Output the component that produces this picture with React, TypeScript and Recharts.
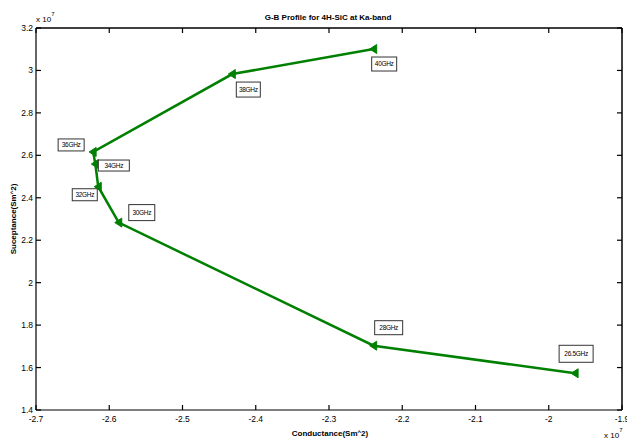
import React from "react";
import { LineChart, Line, XAxis, YAxis, ReferenceLine } from "recharts";

// G-B profile, values in units of 1e7
const freqLabels = ["26.5GHz", "28GHz", "30GHz", "32GHz", "34GHz", "36GHz", "38GHz", "40GHz"];
const conductance = [-1.964, -2.239, -2.587, -2.615, -2.619, -2.622, -2.432, -2.239];
const susceptance = [1.573, 1.703, 2.283, 2.452, 2.559, 2.616, 2.983, 3.101];

const xTicks = [-2.7, -2.6, -2.5, -2.4, -2.3, -2.2, -2.1, -2, -1.9];
const yTicks = [1.4, 1.6, 1.8, 2, 2.2, 2.4, 2.6, 2.8, 3, 3.2];

const data = freqLabels.map((f, i) => ({ f, g: conductance[i], b: susceptance[i] }));

// label box placement relative to the marker (layout only)
const labelBoxes: Record<string, { dx: number; dy: number; w: number; h: number }> = {
  "26.5GHz": { dx: -16, dy: -28, w: 34, h: 17 },
  "28GHz": { dx: 1, dy: -25, w: 28, h: 14 },
  "30GHz": { dx: 10, dy: -18, w: 26, h: 16 },
  "32GHz": { dx: -26, dy: 2, w: 25, h: 12 },
  "34GHz": { dx: 3, dy: -4, w: 31, h: 11 },
  "36GHz": { dx: -35, dy: -13, w: 26, h: 12 },
  "38GHz": { dx: 4, dy: 8, w: 24, h: 15 },
  "40GHz": { dx: -2, dy: 8, w: 25, h: 14 },
};

const W = 627;
const H = 439;
const MARGIN = { top: 28, right: 5, left: 0, bottom: 0 };
const PLOT_TOP = MARGIN.top;
const PLOT_RIGHT = W - MARGIN.right;

const GREEN = "#008000";
const FONT = "'Liberation Sans', Arial, sans-serif";

const fmt = (v: number) => String(v);

// bottom tick + mirrored tick on the top edge (matlab box style)
const BottomTick = (props: any) => {
  const { x, y, payload } = props;
  return (
    <g>
      <line x1={x} x2={x} y1={y} y2={y - 5} stroke="#000" strokeWidth={1.2} />
      <line x1={x} x2={x} y1={PLOT_TOP} y2={PLOT_TOP + 5} stroke="#000" strokeWidth={1.2} />
      <text x={x} y={y + 12} textAnchor="middle" fontSize={8.5} fontFamily={FONT} fill="#000">
        {fmt(payload.value)}
      </text>
    </g>
  );
};

const LeftTick = (props: any) => {
  const { x, y, payload } = props;
  return (
    <g>
      <line x1={x} x2={x + 5} y1={y} y2={y} stroke="#000" strokeWidth={1.2} />
      <line x1={PLOT_RIGHT} x2={PLOT_RIGHT - 5} y1={y} y2={y} stroke="#000" strokeWidth={1.2} />
      <text x={x - 3} y={y + 3} textAnchor="end" fontSize={8.5} fontFamily={FONT} fill="#000">
        {fmt(payload.value)}
      </text>
    </g>
  );
};

const Marker = (props: any) => {
  const { cx, cy, payload } = props;
  const box = labelBoxes[payload.f];
  return (
    <g>
      <polygon
        points={`${cx - 4},${cy} ${cx + 3},${cy - 4.5} ${cx + 3},${cy + 4.5}`}
        fill={GREEN}
        stroke={GREEN}
        strokeWidth={1}
      />
      {box && (
        <g>
          <rect
            x={cx + box.dx}
            y={cy + box.dy}
            width={box.w}
            height={box.h}
            fill="#fff"
            stroke="#333"
            strokeWidth={1}
          />
          <text
            x={cx + box.dx + box.w / 2}
            y={cy + box.dy + box.h / 2 + 2.3}
            textAnchor="middle"
            fontSize={6.5}
            fontFamily={FONT}
            fill="#000"
            letterSpacing={-0.3}
          >
            {payload.f}
          </text>
        </g>
      )}
    </g>
  );
};

const App = () => {
  return (
    <div style={{ position: "absolute", left: 0, top: 0, width: W, height: H }}>
      {/* title and axis captions sit behind the chart surface */}
      <svg
        width={W}
        height={H}
        style={{ position: "absolute", left: 0, top: 0, pointerEvents: "none" }}
        fontFamily={FONT}
      >
        <text x={328} y={20} textAnchor="middle" fontSize={8} fontWeight="bold">
          G-B Profile for 4H-SiC at Ka-band
        </text>
        <text x={36} y={22} fontSize={8}>
          x 10
          <tspan dy={-6} fontSize={6}>7</tspan>
        </text>
        <text x={604} y={438} fontSize={8}>
          x 10
          <tspan dy={-6} fontSize={6}>7</tspan>
        </text>
        <text x={330} y={436} textAnchor="middle" fontSize={8} fontWeight="bold">
          Conductance(Sm
          <tspan fontSize={6} dy={-2}>^</tspan>
          <tspan dy={2}>2)</tspan>
        </text>
        <text
          x={0}
          y={0}
          transform="translate(16,219) rotate(-90)"
          textAnchor="middle"
          fontSize={8}
          fontWeight="bold"
        >
          Suceptance(Sm
          <tspan fontSize={6} dy={-2}>^</tspan>
          <tspan dy={2}>2)</tspan>
        </text>
      </svg>
      <LineChart width={W} height={H} data={data} margin={MARGIN}>
        <XAxis
          type="number"
          dataKey="g"
          domain={[-2.7, -1.9]}
          ticks={xTicks}
          interval={0}
          height={29}
          tickSize={0}
          tickMargin={0}
          tickLine={false}
          tick={<BottomTick />}
          axisLine={{ stroke: "#000", strokeWidth: 1.2 }}
        />
        <YAxis
          type="number"
          dataKey="b"
          domain={[1.4, 3.2]}
          ticks={yTicks}
          interval={0}
          width={36}
          tickSize={0}
          tickMargin={0}
          tickLine={false}
          tick={<LeftTick />}
          axisLine={{ stroke: "#000", strokeWidth: 1.2 }}
        />
        {/* top and right edges of the axes box */}
        <ReferenceLine y={3.2} stroke="#000" strokeWidth={1.5} />
        <ReferenceLine x={-1.9} stroke="#000" strokeWidth={1.5} />
        <Line
          type="linear"
          dataKey="b"
          stroke={GREEN}
          strokeWidth={2.5}
          dot={<Marker />}
          activeDot={false}
          isAnimationActive={false}
        />
      </LineChart>
    </div>
  );
};

export default App;
